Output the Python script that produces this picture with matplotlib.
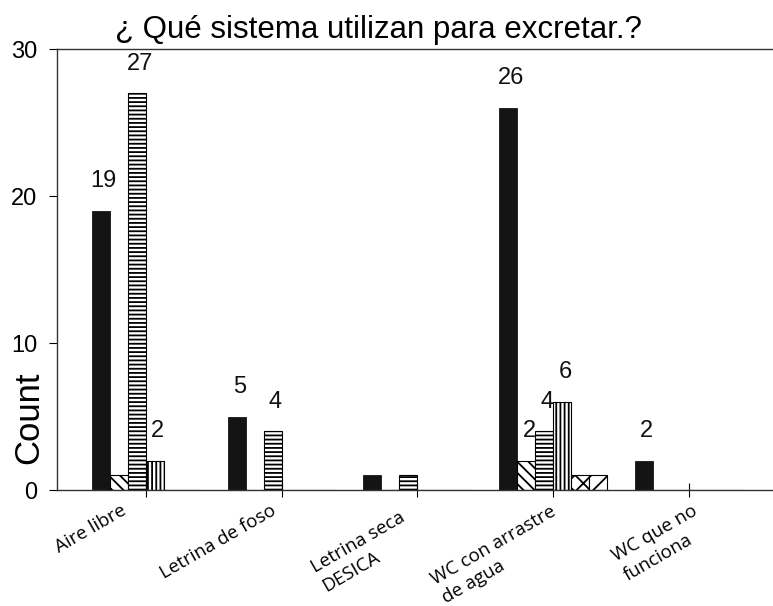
import numpy as np
import matplotlib
matplotlib.use("Agg")
import matplotlib.pyplot as plt
from matplotlib.transforms import ScaledTranslation

# Datos
categorias = ["Aire libre", "Letrina de foso", "Letrina seca\nDESICA",
              "WC con arrastre\nde agua", "WC que no\nfunciona"]
serie_negra = [19, 5, 1, 26, 2]
serie_diagonal = [1, 0, 0, 2, 0]
serie_horizontal = [27, 4, 1, 4, 0]
serie_vertical = [2, 0, 0, 6, 0]
serie_zigzag = [0, 0, 0, 1, 0]
serie_barra = [0, 0, 0, 1, 0]

series = [serie_negra, serie_diagonal, serie_horizontal,
          serie_vertical, serie_zigzag, serie_barra]
tramas = [None, "\\\\\\", "----", "||||", "xx", "//"]
etiqueta_minima = 2

# desplazamiento (px) de cada etiqueta del eje x respecto a su marca
desp_etiquetas = [(-26, 11), (-12, 11), (-18, 18), (-3, 12), (3, 12)]

plt.rcParams["hatch.linewidth"] = 1.3
plt.rcParams["font.family"] = ["Liberation Sans", "DejaVu Sans"]

fig = plt.figure(figsize=(7.73, 6.06), dpi=100)
ax = fig.add_axes([0.0737, 0.1914, 0.9263, 0.7277])

x = np.arange(len(categorias))
ancho = 0.1326

for j, (valores, trama) in enumerate(zip(series, tramas)):
    pos = x + (j - 2.5) * ancho
    if trama is None:
        ax.bar(pos, valores, ancho, color="#141414", edgecolor="#141414",
               linewidth=0.6)
    else:
        ax.bar(pos, valores, ancho, color="white", edgecolor="black",
               hatch=trama, linewidth=0.8)
    for px, v in zip(pos, valores):
        if v >= etiqueta_minima:
            ax.text(px + 0.02, v + 2.0, str(v), ha="center", va="center",
                    fontsize=17, color="#111111")

ax.set_xlim(-0.656, 4.619)
ax.set_ylim(0, 30)
ax.set_yticks([0, 10, 20, 30])
ax.tick_params(axis="y", labelsize=17, length=5.8, width=0.8, pad=8.5)
ax.set_xticks(x)
ax.set_xticklabels([])
ax.tick_params(axis="x", direction="inout", length=10, width=0.8)

for i, (texto, (dx, dy)) in enumerate(zip(categorias, desp_etiquetas)):
    desplaza = ScaledTranslation(dx / 100, -dy / 100, fig.dpi_scale_trans)
    ax.text(i, 0, texto, transform=ax.get_xaxis_transform() + desplaza,
            rotation=30, rotation_mode="anchor", ha="right", va="top",
            multialignment="left", fontsize=13.5, family="Open Sans",
            linespacing=1.3)

ax.spines["right"].set_visible(False)
for lado in ["left", "bottom", "top"]:
    ax.spines[lado].set_linewidth(1.0)
    ax.spines[lado].set_color("#333333")

ax.set_ylabel("Count", fontsize=25)
ax.yaxis.set_label_coords(-0.016, 0.163)

fig.text(115 / 773, 1 - 38 / 606, "¿ Qué sistema utilizan para excretar.?",
         fontsize=22.5, va="baseline", ha="left")

fig.savefig("out.png", dpi=100)
